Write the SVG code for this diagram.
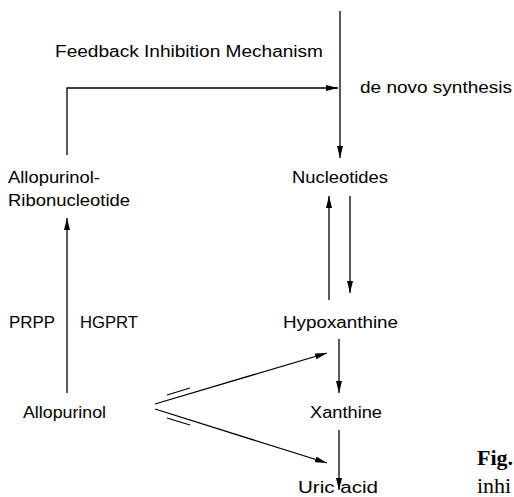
<svg xmlns="http://www.w3.org/2000/svg" width="514" height="497" viewBox="0 0 514 497">
<defs>
<marker id="ah" viewBox="0 0 12 6" refX="12" refY="3" markerWidth="12" markerHeight="6" markerUnits="userSpaceOnUse" orient="auto">
<path d="M0,0 L12,3 L0,6 Z" fill="#000"/>
</marker>
</defs>
<style>
.t{font-family:"Liberation Sans","DejaVu Sans",sans-serif;font-size:16px;fill:#000}
.c{stroke:#000;stroke-width:1.3;fill:none}
.a{marker-end:url(#ah)}
</style>
<rect width="514" height="497" fill="#fff"/>
<g id="connectors">
<line class="c a" x1="340" y1="11" x2="340" y2="158"/>
<polyline class="c a" points="67,155 67,88 338,88"/>
<line class="c a" x1="67" y1="393" x2="67" y2="218"/>
<line class="c a" x1="329" y1="300" x2="329" y2="196"/>
<line class="c a" x1="350" y1="196" x2="350" y2="293"/>
<line class="c a" x1="339" y1="339" x2="339" y2="393"/>
<line class="c a" x1="339" y1="430" x2="339" y2="490"/>
<line class="c a" x1="155" y1="404" x2="327" y2="353"/>
<line class="c a" x1="155" y1="409" x2="327" y2="463"/>
<line class="c" x1="167" y1="395" x2="190" y2="388"/>
<line class="c" x1="167" y1="418" x2="190" y2="425"/>
</g>
<g id="label-feedback"><text class="t" x="55" y="57" textLength="268" lengthAdjust="spacingAndGlyphs">Feedback Inhibition Mechanism</text></g>
<g id="label-denovo"><text class="t" x="360" y="93" textLength="152" lengthAdjust="spacingAndGlyphs">de novo synthesis</text></g>
<g id="node-allo-ribo">
<text class="t" x="8" y="183" textLength="92" lengthAdjust="spacingAndGlyphs">Allopurinol-</text>
<text class="t" x="8" y="206" textLength="122" lengthAdjust="spacingAndGlyphs">Ribonucleotide</text>
</g>
<g id="node-nucleotides"><text class="t" x="292" y="183" textLength="96" lengthAdjust="spacingAndGlyphs">Nucleotides</text></g>
<g id="label-prpp"><text class="t" x="9" y="328" textLength="46" lengthAdjust="spacingAndGlyphs">PRPP</text></g>
<g id="label-hgprt"><text class="t" x="80" y="328" textLength="58" lengthAdjust="spacingAndGlyphs">HGPRT</text></g>
<g id="node-hypoxanthine"><text class="t" x="283" y="328" textLength="115" lengthAdjust="spacingAndGlyphs">Hypoxanthine</text></g>
<g id="node-allopurinol"><text class="t" x="23" y="418" textLength="83" lengthAdjust="spacingAndGlyphs">Allopurinol</text></g>
<g id="node-xanthine"><text class="t" x="310" y="418" textLength="72" lengthAdjust="spacingAndGlyphs">Xanthine</text></g>
<g id="node-uric"><text class="t" x="298" y="493" textLength="80" lengthAdjust="spacingAndGlyphs">Uric acid</text></g>
<g id="caption">
<text x="477" y="465" font-family="'Liberation Serif',serif" font-weight="bold" font-size="22">Fig.</text>
<text x="477" y="493" font-family="'Liberation Serif',serif" font-size="22">inhi</text>
</g>
</svg>
